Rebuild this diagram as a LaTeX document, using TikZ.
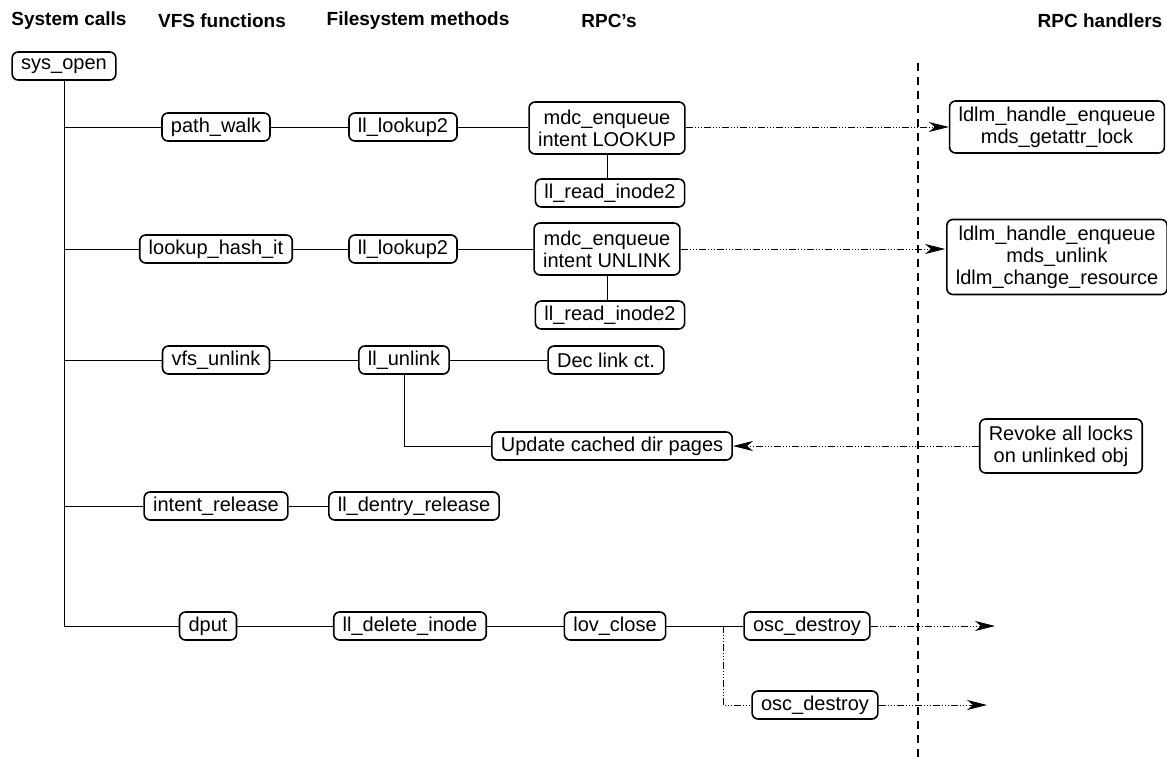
\documentclass[tikz,border=0pt]{standalone}
\usepackage{fontspec}
\setmainfont{Liberation Sans}
\usetikzlibrary{arrows.meta}
\tikzstyle{box} = [draw, line width=1.6pt, rounded corners=6pt, inner xsep=9pt, inner ysep=4pt, minimum height=28pt, align=center, font=\fontsize{20}{22}\selectfont]
\tikzstyle{head} = [font=\fontsize{19}{22}\selectfont\bfseries]
\tikzstyle{rpcline} = [draw, line width=0.8pt, dash pattern=on 7pt off 2pt on 1pt off 2pt on 1pt off 2pt on 1pt off 2pt]
\tikzstyle{rpc} = [rpcline, -{Stealth[length=20pt,width=10pt,inset=6pt]}]

\begin{document}
\begin{tikzpicture}[x=1pt, y=-1pt, line width=0.9pt]
\useasboundingbox (0,0) rectangle (1167,757);
% Spaltenkoepfe
\node[head] (hsys) at (69,21) {System calls};
\node[head] (hvfs) at (222,21) {VFS functions};
\node[head] (hfs) at (418,21) {Filesystem methods};
\node[head] (hrpc) at (609,21) {RPC's};
\node[head] (hhdl) at (1100,21) {RPC handlers};
% Client
\node[box] (sysopen) at (64,66) {sys\_open};
\node[box] (pathwalk) at (216,127) {path\_walk};
\node[box] (lookupa) at (403,127) {ll\_lookup2};
\node[box, minimum height=52pt] (mdclookup) at (607,128) {mdc\_enqueue\\intent LOOKUP};
\node[box] (reada) at (610,193) {ll\_read\_inode2};
\node[box] (hashit) at (216,249) {lookup\_hash\_it};
\node[box] (lookupb) at (403,249) {ll\_lookup2};
\node[box, minimum height=52pt] (mdcunlink) at (607,249) {mdc\_enqueue\\intent UNLINK};
\node[box] (readb) at (610,315) {ll\_read\_inode2};
\node[box] (vfsunlink) at (216,360) {vfs\_unlink};
\node[box] (llunlink) at (404,360) {ll\_unlink};
\node[box] (declink) at (606,360) {Dec link ct.};
\node[box] (update) at (612,446) {Update cached dir pages};
\node[box] (release) at (216,506) {intent\_release};
\node[box] (dentry) at (414,506) {ll\_dentry\_release};
\node[box] (dput) at (208,626) {dput};
\node[box] (delinode) at (410,626) {ll\_delete\_inode};
\node[box] (lovclose) at (615,626) {lov\_close};
\node[box] (oscA) at (807,626) {osc\_destroy};
\node[box] (oscB) at (815,705) {osc\_destroy};
% Server
\node[box, minimum height=52pt] (hlookup) at (1057,127) {ldlm\_handle\_enqueue\\mds\_getattr\_lock};
\node[box, minimum height=75pt] (hunlink) at (1057,257) {ldlm\_handle\_enqueue\\mds\_unlink\\ldlm\_change\_resource};
\node[box, minimum height=54pt] (revoke) at (1061,446) {Revoke all locks\\on unlinked obj};
% Trennlinie
\coordinate (septop) at (918,63);
\coordinate (sepbot) at (918,757);
\draw[line width=1.6pt, dash pattern=on 8pt off 6pt] (septop) -- (sepbot);
% Aufrufbaum
\coordinate (ta) at (sysopen.south |- pathwalk);
\coordinate (tb) at (sysopen.south |- hashit);
\coordinate (tc) at (sysopen.south |- vfsunlink);
\coordinate (td) at (sysopen.south |- release);
\coordinate (te) at (sysopen.south |- dput);
\draw (sysopen.south) -- (te) -- (dput);
\draw (ta) -- (pathwalk);
\draw (tb) -- (hashit);
\draw (tc) -- (vfsunlink);
\draw (td) -- (release);
\draw (pathwalk) -- (lookupa) -- (mdclookup.west |- lookupa);
\draw (mdclookup.south) -- (mdclookup.south |- reada.north);
\draw (hashit) -- (lookupb) -- (mdcunlink);
\draw (mdcunlink.south) -- (mdcunlink.south |- readb.north);
\draw (vfsunlink) -- (llunlink) -- (declink);
\draw (llunlink.south) |- (update.west);
\draw (release) -- (dentry);
\draw (dput) -- (delinode) -- (lovclose);
\coordinate (fork) at (723,626);
\draw (lovclose) -- (oscA);
\draw[rpcline] (fork) |- (oscB);
% RPCs
\coordinate (endunlink) at (945,249);
\coordinate (endA) at (995,626);
\coordinate (endB) at (987,705);
\draw[rpc] (mdclookup.east |- hlookup) -- (hlookup);
\draw[rpc] (mdcunlink) -- (endunlink);
\draw[rpc] (revoke) -- (update);
\draw[rpc] (oscA) -- (endA);
\draw[rpc] (oscB) -- (endB);
\end{tikzpicture}
\end{document}
